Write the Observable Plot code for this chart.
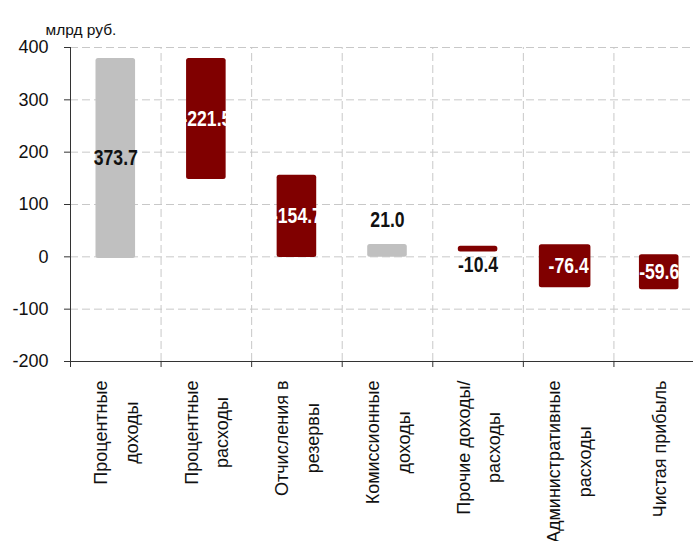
<!DOCTYPE html>
<html><head><meta charset="utf-8">
<script src="https://cdn.jsdelivr.net/npm/d3@7"></script>
<script src="https://cdn.jsdelivr.net/npm/@observablehq/plot@0.6"></script>
<style>
html,body{margin:0;padding:0;background:#fff;overflow:hidden;}
</style></head><body><div id="chart"></div>
<script>
// ---- data ----
const categories = [
  "Процентные\nдоходы",
  "Процентные\nрасходы",
  "Отчисления в\nрезервы",
  "Комиссионные\nдоходы",
  "Прочие доходы/\nрасходы",
  "Административные\nрасходы",
  "Чистая прибыль"
];
const values  = [373.7, -221.5, -154.7, 21.0, -10.4, -76.4, -59.6];
const barFrom = [-3, 379, 156, -1, 20, 23, 4];
const barTo   = [379, 148, -1.5, 23.5, 9, -59, -63];
const yTicks  = [-200, -100, 0, 100, 200, 300, 400];
const unitLabel = "млрд руб.";

// ---- chart ----
const FONT = "'Liberation Sans', Arial, sans-serif";
const GRAY = "#c0c0c0", RED = "#800000", GRID = "#c8c8c8", AXIS = "#333";
const idx = d3.range(categories.length);
const bounds = d3.range(categories.length + 1);
const lo = i => Math.min(barFrom[i], barTo[i]);
const hi = i => Math.max(barFrom[i], barTo[i]);
const small = i => hi(i) - lo(i) < 30;
const inside = idx.filter(i => !small(i));
const above = idx.filter(i => small(i) && values[i] >= 0);
const below = idx.filter(i => small(i) && values[i] < 0);
const wide = i => categories[i].startsWith("Административные");

const chart = Plot.plot({
  width: 693,
  height: 541,
  marginLeft: 70,
  marginRight: 0,
  marginTop: 47,
  marginBottom: 180,
  style: {fontFamily: FONT, background: "#fff"},
  x: {type: "linear", domain: [0, categories.length], range: [70, 704], axis: null},
  y: {domain: [-200, 400], axis: null},
  marks: [
    Plot.ruleY(yTicks.filter(d => d > -200), {stroke: GRID, strokeDasharray: "8,4"}),
    Plot.ruleX(bounds.slice(1), {y1: -200, y2: 400, stroke: GRID, strokeDasharray: "8,4"}),
    Plot.rectY(idx.filter(i => !wide(i)), {
      x1: i => i, x2: i => i + 1, y1: i => barFrom[i], y2: i => barTo[i],
      fill: i => values[i] >= 0 ? GRAY : RED,
      insetLeft: 25.5, insetRight: 25.5, rx: 2.5
    }),
    Plot.rectY(idx.filter(wide), {
      x1: i => i, x2: i => i + 1, y1: i => barFrom[i], y2: i => barTo[i],
      fill: i => values[i] >= 0 ? GRAY : RED,
      insetLeft: 16, insetRight: 23, rx: 2.5
    }),
    Plot.ruleX([0], {y1: -200, y2: 400, stroke: AXIS}),
    Plot.ruleY([-200], {stroke: AXIS}),
    Plot.axisY(yTicks, {tickSize: 6, tickPadding: 16, fontSize: 18, fill: "#111", stroke: AXIS,
      tickFormat: d => String(d), fontFamily: FONT}),
    Plot.axisX(bounds, {tickSize: 6, tickFormat: () => "", stroke: AXIS}),
    // value labels
    Plot.text(inside, {
      x: i => i + 0.5, y: i => (barFrom[i] + barTo[i]) / 2,
      text: i => values[i].toFixed(1),
      fill: i => values[i] >= 0 ? "#111" : "#fff",
      fontSize: 22, fontWeight: "bold", fontFamily: FONT
    }),
    Plot.text(above, {
      x: i => i + 0.5, y: hi, dy: -25,
      text: i => values[i].toFixed(1),
      fill: "#111", fontSize: 22, fontWeight: "bold", fontFamily: FONT
    }),
    Plot.text(below, {
      x: i => i + 0.5, y: lo, dy: 13,
      text: i => values[i].toFixed(1),
      fill: "#111", fontSize: 22, fontWeight: "bold", fontFamily: FONT
    }),
    // category labels
    Plot.text(idx, {
      x: i => i + 0.5, y: -200, dx: -3, dy: 19,
      text: i => categories[i],
      rotate: -90, textAnchor: "end", lineHeight: 1.7,
      fontSize: 18, fill: "#111", fontFamily: FONT
    }),
    // unit label
    Plot.text([unitLabel], {
      frameAnchor: "top-left", dx: -25, dy: -24, textAnchor: "start",
      fontSize: 15.5, fill: "#111", fontFamily: FONT
    })
  ]
});
document.getElementById("chart").append(chart);

// center the lines of multi-line category labels within their block
chart.querySelectorAll("text").forEach(t => {
  const spans = Array.from(t.querySelectorAll("tspan"));
  if (spans.length < 2) return;
  const lens = spans.map(s => s.getComputedTextLength());
  const L = Math.max(...lens);
  spans.forEach((s, k) => s.setAttribute("x", -(L - lens[k]) / 2));
});
// condense the bold value labels (narrow bold face in the reference)
chart.querySelectorAll('g[font-weight="bold"] text').forEach(t => {
  const L = t.getComputedTextLength();
  t.setAttribute("textLength", L * 0.8);
  t.setAttribute("lengthAdjust", "spacingAndGlyphs");
});
</script>
</body></html>
